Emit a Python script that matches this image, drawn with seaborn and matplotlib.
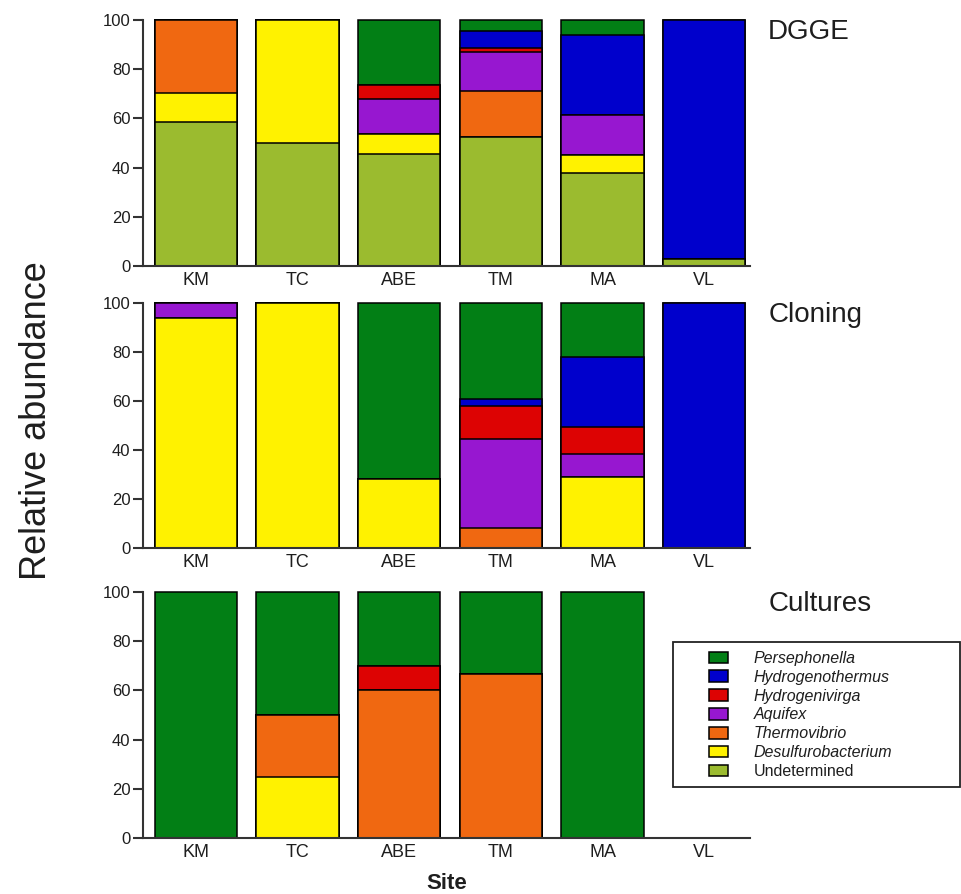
import numpy as np
import pandas as pd
import matplotlib
matplotlib.use("Agg")
import matplotlib.pyplot as plt
from matplotlib.patches import Patch, Rectangle
from matplotlib import font_manager
import seaborn as sns

# ---- data -------------------------------------------------------------
sites = ["KM", "TC", "ABE", "TM", "MA", "VL"]
taxa = ["Persephonella", "Hydrogenothermus", "Hydrogenivirga", "Aquifex",
        "Thermovibrio", "Desulfurobacterium", "Undetermined"]
taxon_colors = ["#027F15", "#0000CC", "#DD0303", "#9717D0",
                "#F06811", "#FFF200", "#9BBB2F"]

# relative abundance (%) per taxon (rows, same order as `taxa`) and site (columns)
dgge = [
    [0, 0, 26.5, 4.5, 6, 0],        # Persephonella
    [0, 0, 0, 7, 32.5, 97],         # Hydrogenothermus
    [0, 0, 5.5, 1.5, 0, 0],         # Hydrogenivirga
    [0, 0, 14.5, 16, 16.5, 0],      # Aquifex
    [29.5, 0, 0, 18.5, 0, 0],       # Thermovibrio
    [12, 50, 8, 0, 7, 0],           # Desulfurobacterium
    [58.5, 50, 45.5, 52.5, 38, 3],  # Undetermined
]
cloning = [
    [0, 0, 72, 39, 22, 0],
    [0, 0, 0, 3, 28.5, 100],
    [0, 0, 0, 13.5, 11, 0],
    [6, 0, 0, 36.5, 9.5, 0],
    [0, 0, 0, 8, 0, 0],
    [94, 100, 28, 0, 29, 0],
    [0, 0, 0, 0, 0, 0],
]
cultures = [
    [100, 50, 30, 33.3, 100, 0],
    [0, 0, 0, 0, 0, 0],
    [0, 0, 10, 0, 0, 0],
    [0, 0, 0, 0, 0, 0],
    [0, 25, 60, 66.7, 0, 0],
    [0, 25, 0, 0, 0, 0],
    [0, 0, 0, 0, 0, 0],
]
panel_titles = ["DGGE", "Cloning", "Cultures"]

# ---- style ------------------------------------------------------------
sns.set_style("ticks")
plt.rcParams["font.family"] = ["Liberation Sans", "DejaVu Sans"]
axis_color = "#333333"
text_color = "#1e1e1e"

fig = plt.figure(figsize=(9.61, 8.94), dpi=100)
W, H = 961.0, 894.0


def add_panel(top_px, bottom_px):
    left_px, right_px = 143, 750
    return fig.add_axes([left_px / W, 1 - bottom_px / H,
                         (right_px - left_px) / W, (bottom_px - top_px) / H])


def draw_panel(ax, values, title):
    stack = np.array(values, dtype=float)
    # height of the top of every layer: the layer plus all layers beneath it
    tops = np.cumsum(stack[::-1], axis=0)[::-1]
    for i, color in enumerate(taxon_colors):
        df = pd.DataFrame({"site": sites, "top": tops[i]})
        df = df[df["top"] > 0]
        if df.empty:
            continue
        sns.barplot(data=df, x="site", y="top", order=sites, color=color,
                    saturation=1, width=0.81, edgecolor="black",
                    linewidth=1.1, errorbar=None, ax=ax)
    for p in ax.patches:
        p.set_clip_on(False)
    ax.set_xlim(-0.52, 5.45)
    ax.set_ylim(0, 100)
    ax.set_yticks(range(0, 101, 20))
    ax.set_xlabel("")
    ax.set_ylabel("")
    for side in ("top", "right"):
        ax.spines[side].set_visible(False)
    for side in ("left", "bottom"):
        ax.spines[side].set_color(axis_color)
        ax.spines[side].set_linewidth(1.5)
    ax.tick_params(axis="y", length=7, width=1.5, color=axis_color,
                   direction="out", pad=2, labelsize=12, labelcolor=text_color)
    ax.tick_params(axis="x", length=0, pad=4, labelsize=13,
                   labelcolor=text_color)
    ax.text(1.03, 0.95, title, transform=ax.transAxes, ha="left",
            va="center", fontsize=20, color=text_color)


axes = [add_panel(20, 266), add_panel(303, 548), add_panel(592, 838)]
for ax, vals, title in zip(axes, [dgge, cloning, cultures], panel_titles):
    draw_panel(ax, vals, title)

axes[-1].set_xlabel("Site", fontsize=16, fontweight="bold",
                    color=text_color, labelpad=9)

# rotated axis title shared by the three panels
installed = {f.name for f in font_manager.fontManager.ttflist}
if "Liberation Sans Narrow" in installed:
    ylab_family, ylab_size = "Liberation Sans Narrow", 31
else:
    ylab_family, ylab_size = "Liberation Sans", 26
fig.text(37 / W, 1 - 421 / H, "Relative abundance", rotation=90,
         ha="center", va="center", fontsize=ylab_size,
         family=[ylab_family, "DejaVu Sans"], color=text_color)

# legend with a separate rectangular frame
handles = [Patch(facecolor=c, edgecolor="black", linewidth=1.1)
           for c in taxon_colors]
leg = fig.legend(handles, taxa, loc="upper left",
                 bbox_to_anchor=(709 / W, 1 - 651 / H), frameon=False,
                 borderpad=0, borderaxespad=0, handlelength=1.2,
                 handleheight=0.75, handletextpad=1.6, labelspacing=0.24,
                 fontsize=11.5)
for t in leg.get_texts():
    t.set_color(text_color)
for t in leg.get_texts()[:-1]:
    t.set_fontstyle("italic")
fig.add_artist(Rectangle((673 / W, 1 - 787 / H), 287 / W, 145 / H,
                         transform=fig.transFigure, fill=False,
                         edgecolor="#222222", linewidth=1.3))

fig.savefig("out.png", dpi=100)
